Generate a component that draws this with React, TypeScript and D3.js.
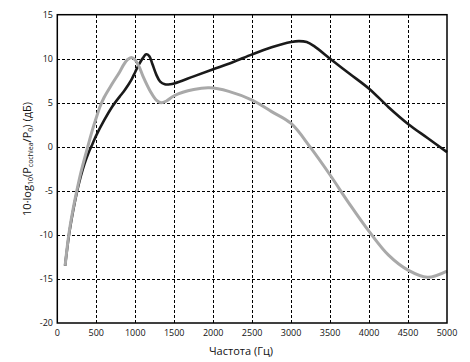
import React from "react";
import * as d3 from "d3";

const xTicks = [0, 500, 1000, 1500, 2000, 2500, 3000, 3500, 4000, 4500, 5000];
const yTicks = [-20, -15, -10, -5, 0, 5, 10, 15];

const blackFreq = [100, 150, 200, 250, 300, 350, 400, 450, 500, 600, 700, 800, 850, 900, 950, 1000, 1050, 1100, 1140, 1180, 1220, 1270, 1320, 1380, 1450, 1500, 1750, 2000, 2250, 2500, 2750, 3000, 3100, 3200, 3300, 3500, 3750, 4000, 4250, 4500, 4750, 5000];
const blackVal = [-13.5, -10.0, -7.4, -5.2, -3.4, -1.9, -0.7, 0.3, 1.3, 3.0, 4.5, 5.7, 6.25, 6.9, 7.6, 8.5, 9.4, 10.1, 10.5, 10.3, 9.4, 8.2, 7.4, 7.1, 7.1, 7.2, 8.0, 8.8, 9.6, 10.5, 11.3, 11.9, 12.0, 11.9, 11.4, 10.0, 8.3, 6.6, 4.5, 2.6, 1.0, -0.6];

const grayFreq = [100, 150, 200, 250, 300, 350, 400, 450, 500, 550, 600, 700, 800, 850, 900, 950, 1000, 1050, 1100, 1200, 1270, 1330, 1400, 1500, 1750, 1950, 2200, 2500, 2750, 3000, 3250, 3500, 3750, 4000, 4250, 4500, 4750, 5000];
const grayVal = [-13.5, -9.8, -7.2, -5.0, -3.0, -1.3, 0.3, 1.9, 3.3, 4.6, 5.6, 7.1, 8.5, 9.3, 9.9, 10.15, 9.85, 9.1, 8.0, 6.2, 5.3, 5.0, 5.2, 5.8, 6.5, 6.7, 6.3, 5.3, 4.0, 2.65, -0.1, -3.2, -6.5, -9.6, -12.3, -14.0, -14.8, -14.1];

const W = 470;
const H = 362;
const L = 57.3;
const R = 447;
const T = 14.7;
const B = 323;

export default function App() {
  const x = d3.scaleLinear().domain([0, 5000]).range([L, R]);
  const y = d3.scaleLinear().domain([-20, 15]).range([B, T]);
  const line = d3
    .line<[number, number]>()
    .x((d) => x(d[0]))
    .y((d) => y(d[1]))
    .curve(d3.curveCatmullRom.alpha(0.5));
  const black = blackFreq.map((f, i) => [f, blackVal[i]] as [number, number]);
  const gray = grayFreq.map((f, i) => [f, grayVal[i]] as [number, number]);
  const font = "'Open Sans', 'DejaVu Sans', sans-serif";
  const px = (v: number) => Math.round(v) + 0.5;

  return (
    <svg
      width={W}
      height={H}
      style={{ position: "fixed", left: 0, top: 0, background: "#fff" }}
      fontFamily={font}
    >
      <rect x={0} y={0} width={W} height={H} fill="#fff" />
      {xTicks.slice(1, -1).map((t) => (
        <line key={"gx" + t} x1={px(x(t))} x2={px(x(t))} y1={T} y2={B} stroke="#000" strokeWidth={1} strokeDasharray="3,2" shapeRendering="crispEdges" />
      ))}
      {yTicks.slice(1, -1).map((t) => (
        <line key={"gy" + t} x1={L} x2={R} y1={px(y(t))} y2={px(y(t))} stroke="#000" strokeWidth={1} strokeDasharray="3,2" shapeRendering="crispEdges" />
      ))}
      <path d={line(black) || ""} fill="none" stroke="#1a1a1a" strokeWidth={2.6} />
      <path d={line(gray) || ""} fill="none" stroke="#a9a9a9" strokeWidth={3} />
      <rect x={L} y={T} width={R - L} height={B - T} fill="none" stroke="#000" strokeWidth={1.5} />
      {xTicks.map((t) => (
        <text key={"tx" + t} x={x(t)} y={336} fontSize={9} textAnchor="middle" fill="#111">
          {t}
        </text>
      ))}
      {yTicks.map((t) => (
        <text key={"ty" + t} x={53} y={y(t) + 3} fontSize={9} textAnchor="end" fill="#111">
          {t}
        </text>
      ))}
      <text x={241} y={355} fontSize={11} textAnchor="middle" fill="#111">
        Частота (Гц)
      </text>
      <text transform="translate(31,159) rotate(-90)" fontSize={11} textAnchor="middle" fill="#111">
        10·log
        <tspan fontSize={7} dy={2}>10</tspan>
        <tspan dy={-2}>(P</tspan>
        <tspan fontSize={7} dy={2}>cochlea</tspan>
        <tspan dy={-2}>/P</tspan>
        <tspan fontSize={7} dy={2}>0</tspan>
        <tspan dy={-2}>) (дБ)</tspan>
      </text>
    </svg>
  );
}
